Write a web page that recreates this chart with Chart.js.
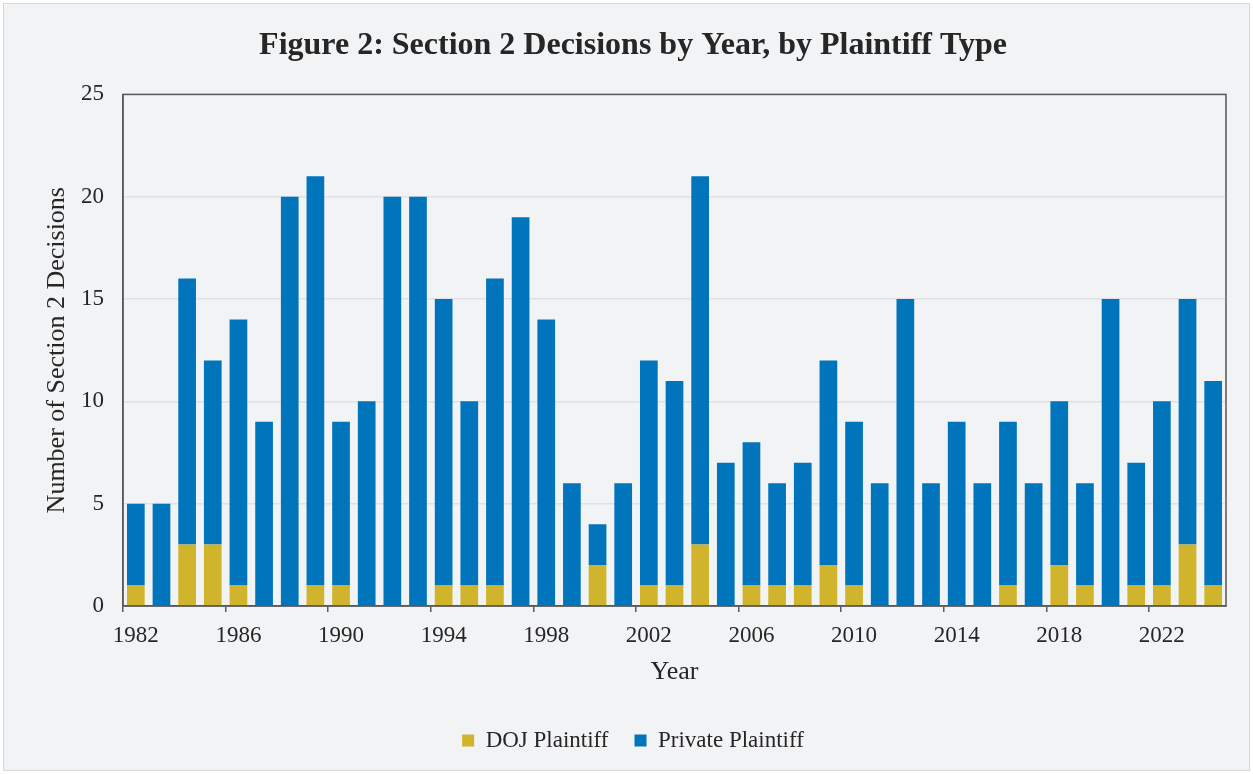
<!DOCTYPE html>
<html>
<head>
<meta charset="utf-8">
<script src="https://cdn.jsdelivr.net/npm/chart.js@4.4.1/dist/chart.umd.min.js"></script>
<style>
  html, body { margin: 0; padding: 0; background: #fff; }
  #wrap { width: 1253px; height: 774px; }
</style>
</head>
<body>
<div id="wrap"><canvas id="c"></canvas></div>
<script>
const years = [
  '1982', '1983', '1984', '1985', '1986', '1987', '1988', '1989', '1990', '1991',
  '1992', '1993', '1994', '1995', '1996', '1997', '1998', '1999', '2000', '2001',
  '2002', '2003', '2004', '2005', '2006', '2007', '2008', '2009', '2010', '2011',
  '2012', '2013', '2014', '2015', '2016', '2017', '2018', '2019', '2020', '2021',
  '2022', '2023', '2024'
];
const dojValues = [
  1, 0, 3, 3, 1, 0, 0, 1, 1, 0,
  0, 0, 1, 1, 1, 0, 0, 0, 2, 0,
  1, 1, 3, 0, 1, 1, 1, 2, 1, 0,
  0, 0, 0, 0, 1, 0, 2, 1, 0, 1,
  1, 3, 1
];
const privateValues = [
  4, 5, 13, 9, 13, 9, 20, 20, 8, 10,
  20, 20, 14, 9, 15, 19, 14, 6, 2, 6,
  11, 10, 18, 7, 7, 5, 6, 10, 8, 6,
  15, 6, 9, 6, 8, 6, 8, 5, 15, 6,
  9, 12, 10
];
const yMax = 25;
const yStep = 5;
const labelEvery = 4;

const serif = '"Liberation Serif", "Times New Roman", serif';
const textColor = '#262626';
const axisColor = '#595959';

// page frame + box round the plot area
const framePlugin = {
  id: 'frame',
  beforeDraw(chart) {
    const ctx = chart.ctx;
    ctx.save();
    ctx.fillStyle = '#ffffff';
    ctx.fillRect(0, 0, chart.width, chart.height);
    ctx.fillStyle = '#F2F3F5';
    ctx.fillRect(3, 3, chart.width - 6, chart.height - 6);
    ctx.strokeStyle = '#D6D7D9';
    ctx.lineWidth = 1;
    ctx.strokeRect(3.5, 3.5, chart.width - 7, chart.height - 7);
    ctx.restore();
  },
  afterDraw(chart) {
    const a = chart.chartArea;
    const ctx = chart.ctx;
    ctx.save();
    ctx.strokeStyle = axisColor;
    ctx.lineWidth = 1.5;
    ctx.strokeRect(a.left, a.top, a.right - a.left, a.bottom - a.top);
    ctx.restore();
  }
};

const ctx = document.getElementById('c').getContext('2d');
new Chart(ctx, {
  type: 'bar',
  data: {
    labels: years,
    datasets: [
      {
        label: 'DOJ Plaintiff',
        data: dojValues,
        backgroundColor: '#D0B52C',
        barPercentage: 0.69,
        categoryPercentage: 1
      },
      {
        label: 'Private Plaintiff',
        data: privateValues,
        backgroundColor: '#0075BC',
        barPercentage: 0.69,
        categoryPercentage: 1
      }
    ]
  },
  options: {
    responsive: true,
    maintainAspectRatio: false,
    animation: false,
    layout: { padding: { top: 9, left: 40, right: 27, bottom: 12 } },
    plugins: {
      title: {
        display: true,
        text: 'Figure 2: Section 2 Decisions by Year, by Plaintiff Type',
        color: textColor,
        font: { family: serif, size: 32, weight: 'bold' },
        padding: { top: 18, bottom: 29 }
      },
      legend: {
        display: true,
        position: 'bottom',
        labels: {
          color: textColor,
          font: { family: serif, size: 23 },
          boxWidth: 12,
          boxHeight: 12,
          padding: 26
        }
      },
      tooltip: { enabled: false }
    },
    scales: {
      x: {
        stacked: true,
        offset: true,
        afterFit(scale) { scale.height = 97; },
        grid: {
          offset: true,
          drawOnChartArea: false,
          tickLength: 6,
          lineWidth: 1.5,
          color: (c) => (c.index % labelEvery === 0 ? axisColor : 'rgba(0,0,0,0)')
        },
        border: { display: true, color: axisColor, width: 1.5 },
        ticks: {
          autoSkip: false,
          maxRotation: 0,
          padding: 10,
          color: textColor,
          font: { family: serif, size: 23 },
          callback: (v, i) => (i % labelEvery === 0 ? years[i] : '')
        },
        title: {
          display: true,
          text: 'Year',
          color: textColor,
          font: { family: serif, size: 26 },
          padding: { top: 0, bottom: 15 }
        }
      },
      y: {
        stacked: true,
        min: 0,
        max: yMax,
        afterFit(scale) { scale.width = 83; },
        grid: { color: '#DFE1E4', lineWidth: 1.5, drawTicks: false },
        border: { display: true, color: axisColor, width: 1.5 },
        ticks: {
          stepSize: yStep,
          padding: 19,
          color: textColor,
          font: { family: serif, size: 23 }
        },
        title: {
          display: true,
          text: 'Number of Section 2 Decisions',
          color: textColor,
          font: { family: serif, size: 26 },
          padding: { top: 2, bottom: 0 }
        }
      }
    }
  },
  plugins: [framePlugin]
});
</script>
</body>
</html>
